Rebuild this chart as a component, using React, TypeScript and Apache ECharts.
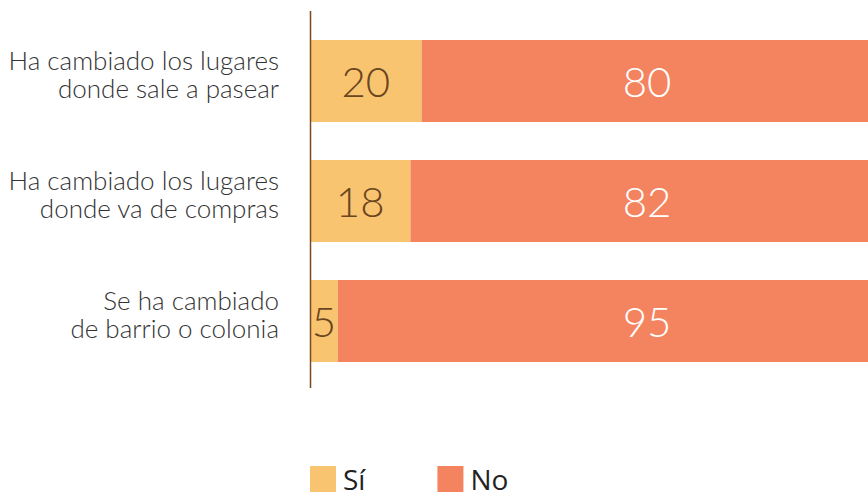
import React, { useEffect, useRef } from "react";
import * as echarts from "echarts";

const categories = [
  "Ha cambiado los lugares\ndonde sale a pasear",
  "Ha cambiado los lugares\ndonde va de compras",
  "Se ha cambiado\nde barrio o colonia",
];
const siValues = [20, 18, 5];
const noValues = [80, 82, 95];
const seriesNames = ["Sí", "No"];

const GRID_LEFT = 310;
const GRID_WIDTH = 558;
const NO_LABEL_CENTER = 60.4; // value position where "No" labels are centred

export default function App() {
  const ref = useRef<HTMLDivElement>(null);
  useEffect(() => {
    if (!ref.current) return;
    const chart = echarts.init(ref.current, null, { renderer: "svg" });
    const noData = noValues.map((v, i) => {
      const mid = siValues[i] + v / 2;
      return {
        value: v,
        label: { offset: [((NO_LABEL_CENTER - mid) / 100) * GRID_WIDTH, 0] },
      };
    });
    chart.setOption({
      animation: false,
      grid: [
        { left: GRID_LEFT, width: GRID_WIDTH, top: 21, height: 360 },
        // label grid: same bands, text set slightly higher than the bars
        { left: GRID_LEFT, width: GRID_WIDTH, top: 14, height: 360 },
      ],
      legend: {
        left: 310,
        top: 465,
        padding: 0,
        itemWidth: 26,
        itemHeight: 26,
        itemGap: 72,
        icon: "rect",
        textStyle: {
          fontFamily: "Open Sans",
          fontSize: 28,
          lineHeight: 26,
          color: "#222",
          padding: [0, 0, 0, 2],
        },
        data: seriesNames,
      },
      xAxis: [
        { type: "value", min: 0, max: 100, show: false, gridIndex: 0 },
        { type: "value", min: 0, max: 100, show: false, gridIndex: 1 },
      ],
      yAxis: [
        {
          type: "category",
          data: categories,
          inverse: true,
          gridIndex: 0,
          axisLine: { show: false },
          axisTick: { show: false },
          axisLabel: { show: false },
        },
        {
          type: "category",
          data: categories,
          inverse: true,
          gridIndex: 1,
          axisLine: { show: false },
          axisTick: { show: false },
          splitLine: { show: false },
          axisLabel: {
            margin: 31,
            fontFamily: "Lato",
            fontWeight: 300,
            fontSize: 26,
            lineHeight: 28,
            color: "#333",
            align: "right",
          },
        },
      ],
      graphic: [
        {
          type: "line",
          shape: { x1: 310.5, y1: 11, x2: 310.5, y2: 388 },
          style: { stroke: "#7a4a1e", lineWidth: 1.5 },
          z: 100,
        },
      ],
      series: [
        {
          name: seriesNames[0],
          type: "bar",
          stack: "a",
          barWidth: 82,
          xAxisIndex: 0,
          yAxisIndex: 0,
          data: siValues,
          itemStyle: { color: "#F9C470" },
          label: {
            show: true,
            position: "inside",
            fontFamily: "Lato",
            fontWeight: 300,
            fontSize: 42,
            color: "#6b4420",
          },
        },
        {
          name: seriesNames[1],
          type: "bar",
          stack: "a",
          barWidth: 82,
          xAxisIndex: 0,
          yAxisIndex: 0,
          data: noData,
          itemStyle: { color: "#F4845F" },
          label: {
            show: true,
            position: "inside",
            fontFamily: "Lato",
            fontWeight: 300,
            fontSize: 42,
            color: "#ffffff",
          },
        },
      ],
    });
    return () => chart.dispose();
  }, []);
  return <div ref={ref} style={{ width: 868, height: 492, position: "absolute", left: 0, top: 0 }} />;
}
